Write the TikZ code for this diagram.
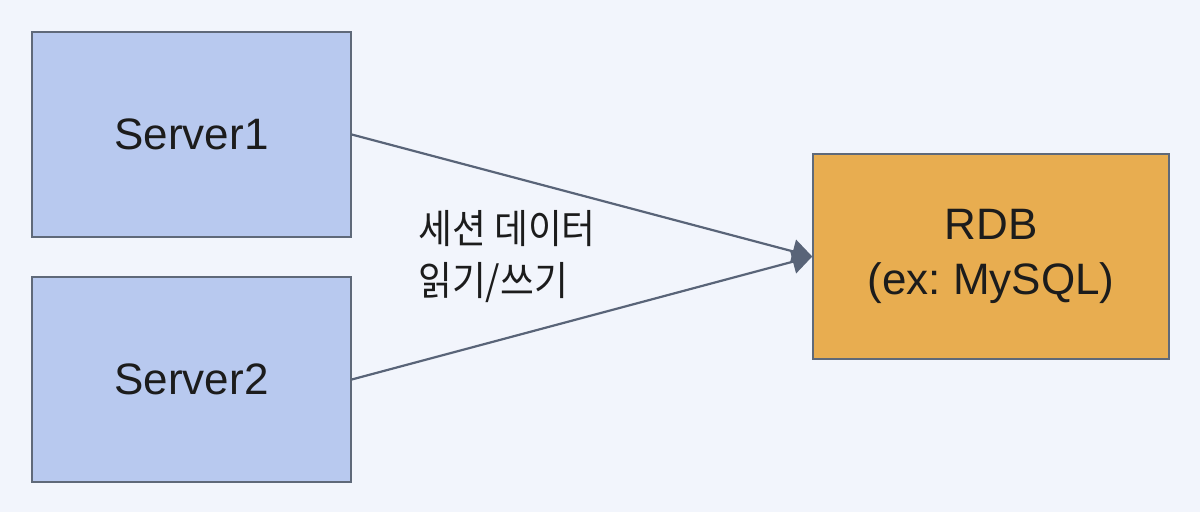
\documentclass[tikz,border=0pt]{standalone}
\usepackage{fontspec}
\setmainfont{Liberation Sans}
\newfontfamily\krfont[FakeStretch=0.92]{Noto Sans CJK KR}
\usetikzlibrary{arrows.meta}

\definecolor{bgcol}{HTML}{F2F5FC}
\definecolor{srvfill}{HTML}{B8C9EF}
\definecolor{dbfill}{HTML}{E8AD50}
\definecolor{boxline}{HTML}{5F6979}
\definecolor{linecol}{HTML}{596478}
\definecolor{textcol}{HTML}{1C1C1C}

\begin{document}
\frenchspacing
\begin{tikzpicture}[x=1pt,y=-1pt,
    box/.style={draw=boxline,line width=1.5pt,inner sep=0pt,align=center,
        text=textcol,font=\fontsize{44}{55}\selectfont},
    srv/.style={box,fill=srvfill,minimum width=319pt,minimum height=205pt},
    db/.style={box,fill=dbfill,minimum width=356pt,minimum height=205pt},
    link/.style={draw=linecol,line width=2.2pt,-{Triangle[length=20pt,width=24pt]}}]

    \fill[bgcol] (0,0) rectangle (1200,512);

    \node[srv] (srv1) at (191.5,134.5) {Server1};
    \node[srv] (srv2) at (191.5,379.5) {Server2};
    \node[db]  (rdb)  at (991,256.5)   {RDB\\(ex: MySQL)};

    \draw[link] (srv1.east) -- (rdb.west);
    \draw[link] (srv2.east) -- (rdb.west);

    % second line sets the base anchor
    \node[anchor=base west,align=left,inner sep=0pt,text=textcol,
        font=\krfont\fontsize{40}{52}\selectfont] (note) at (418,295)
        {세션 데이터\\읽기/쓰기};
\end{tikzpicture}
\end{document}
